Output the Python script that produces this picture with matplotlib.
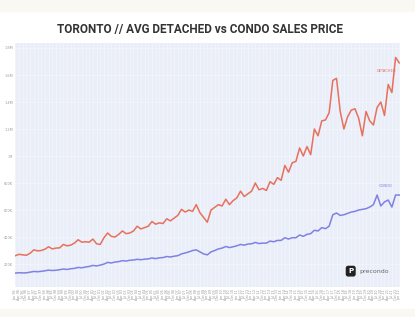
import matplotlib.pyplot as plt
from matplotlib.patches import Rectangle

# quarterly averages, 1996 Q1 .. 2022 Q1, in thousands of dollars
years = list(range(1996, 2023))
quarters = ['Jan', 'Apr', 'Jul', 'Oct']

detached = [
    262, 272, 268, 265,      # 1996
    280, 305, 298, 300,      # 1997
    310, 328, 312, 318,      # 1998
    320, 345, 335, 340,      # 1999
    355, 380, 362, 365,      # 2000
    362, 385, 350, 345,      # 2001
    395, 430, 405, 400,      # 2002
    420, 445, 425, 430,      # 2003
    445, 480, 460, 470,      # 2004
    480, 515, 495, 505,      # 2005
    500, 535, 520, 540,      # 2006
    560, 605, 585, 600,      # 2007
    590, 640, 580, 545,      # 2008
    510, 600, 620, 640,      # 2009
    630, 680, 640, 670,      # 2010
    690, 740, 700, 720,      # 2011
    740, 800, 750, 760,      # 2012
    745, 810, 790, 840,      # 2013
    820, 930, 880, 950,      # 2014
    960, 1060, 1000, 1070,   # 2015
    1010, 1200, 1150, 1260,  # 2016
    1267, 1320, 1560, 1575,  # 2017
    1330, 1200, 1290, 1340,  # 2018
    1350, 1280, 1150, 1330,  # 2019
    1260, 1230, 1360, 1400,  # 2020
    1300, 1530, 1470, 1730,  # 2021
    1690,                    # 2022
]

condo = [
    133, 136, 134, 135,
    140, 145, 143, 146,
    150, 155, 152, 154,
    158, 163, 160, 165,
    168, 175, 172, 178,
    182, 190, 186, 192,
    200, 212, 208, 215,
    218, 225, 222, 228,
    230, 235, 232, 236,
    238, 245, 240, 246,
    248, 256, 252, 258,
    262, 275, 282, 290,
    300, 305, 290, 275,
    268, 290, 300, 312,
    318, 330, 322, 328,
    335, 345, 340, 348,
    350, 360, 352, 355,
    355, 370, 365, 375,
    375, 395, 385, 395,
    395, 415, 405, 420,
    425, 450, 445, 470,
    462, 480, 565, 578,
    560, 565, 575, 585,
    590, 600, 605, 610,
    622, 640, 711, 630,
    660, 674, 622, 711,
    711,
]

y_ticks = [200, 400, 600, 800, 1000, 1200, 1400, 1600, 1800]
y_tick_labels = ['200K', '400K', '600K', '800K', '1M', '1.2M', '1.4M', '1.6M', '1.8M']

labels = [f'{m} {str(y)[2:]}' for y in years for m in quarters][:len(detached)]
x = list(range(len(detached)))

fig = plt.figure(figsize=(4.15, 3.17), dpi=100)
fig.patches.append(Rectangle((0, 1 - 11 / 317), 1, 11 / 317, transform=fig.transFigure,
                             color='#faf8f3', zorder=0))
fig.patches.append(Rectangle((0, 0), 1, 8 / 317, transform=fig.transFigure,
                             color='#faf8f3', zorder=0))

ax = fig.add_axes([15 / 415, 30 / 317, 385 / 415, 244 / 317])
ax.set_facecolor('#e9eef8')
for s in ax.spines.values():
    s.set_visible(False)

ax.plot(x, [v * 1000 for v in detached], color='#e8705c', lw=1.1)
ax.plot(x, [v * 1000 for v in condo], color='#7f82e2', lw=1.1)

ax.set_xlim(-0.1, len(x) - 0.8)
ax.set_ylim(30000, 1837000)
ax.set_yticks([v * 1000 for v in y_ticks])
ax.set_yticklabels(y_tick_labels, fontsize=2.5, color='#999999')
ax.set_xticks(x)
ax.set_xticklabels(labels, rotation=90, fontsize=2.4, color='#999999')
ax.tick_params(length=0, pad=1.5)
ax.grid(True, color='white', lw=0.4, alpha=0.6)
ax.set_axisbelow(True)

ax.text(0.99, 0.885, 'DETACHED', transform=ax.transAxes, ha='right', va='center',
        fontsize=2.6, color='#e8705c')
ax.text(0.98, 0.415, 'CONDO', transform=ax.transAxes, ha='right', va='center',
        fontsize=2.6, color='#7f82e2')

ax.text(0.872, 0.065, 'P', transform=ax.transAxes, ha='center', va='center',
        fontsize=5, color='white', fontweight='bold',
        bbox=dict(boxstyle='round,pad=0.25', fc='#222222', ec='#222222'))
ax.text(0.895, 0.065, 'precondo', transform=ax.transAxes, ha='left', va='center',
        fontsize=4.5, color='#666666')

fig.text(0.482, 1 - 30 / 317, 'TORONTO // AVG DETACHED vs CONDO SALES PRICE',
         ha='center', va='center', fontsize=8.5, fontweight='bold', color='#333333',
         family=['Roboto', 'DejaVu Sans'])

fig.savefig('out.png', dpi=100)
